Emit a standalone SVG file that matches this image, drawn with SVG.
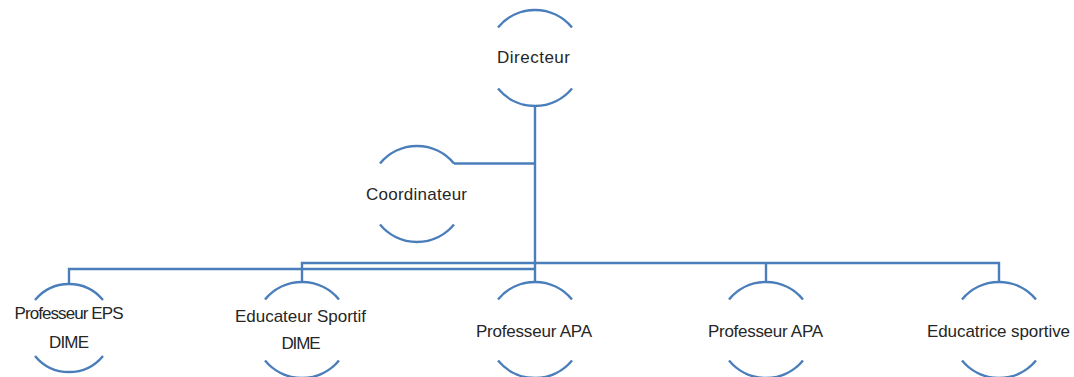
<svg xmlns="http://www.w3.org/2000/svg" width="1074" height="377" viewBox="0 0 1074 377">
<style>
.arc{fill:none;stroke:#4a7ebb;stroke-width:2.4;stroke-linecap:butt}
.con{fill:none;stroke:#4a7ebb;stroke-width:2.4}
.t{font-family:"Liberation Sans",Arial,sans-serif;font-size:17px;fill:#262626;text-anchor:middle}
</style>
<rect width="1074" height="377" fill="#ffffff"/>
<g id="connectors">
<path class="con" d="M535,106 V282"/>
<path class="con" d="M535,163.5 H454"/>
<path class="con" d="M535,269 H69 V284"/>
<path class="con" d="M535,263 H302 V282"/>
<path class="con" d="M535,263 H999 V282"/>
<path class="con" d="M766,263 V282"/>
</g>
<g id="directeur">
<path class="arc" d="M498,27.4 A48,48 0 0 1 572,27.4"/>
<path class="arc" d="M498,88.6 A48,48 0 0 0 572,88.6"/>
<text class="t" x="533.5" y="63" textLength="73">Directeur</text>
</g>
<g id="coordinateur">
<path class="arc" d="M380,163.4 A48,48 0 0 1 454,163.4"/>
<path class="arc" d="M380,224.6 A48,48 0 0 0 454,224.6"/>
<text class="t" x="416.5" y="200" textLength="101">Coordinateur</text>
</g>
<g id="prof-eps">
<path class="arc" d="M35,300 A44,44 0 0 1 103,300"/>
<path class="arc" d="M35,356 A44,44 0 0 0 103,356"/>
<text class="t" x="69" y="319" textLength="109">Professeur EPS</text>
<text class="t" x="69" y="348" textLength="40">DIME</text>
</g>
<g id="educateur">
<path class="arc" d="M265,299.4 A48,48 0 0 1 339,299.4"/>
<path class="arc" d="M265,360.6 A48,48 0 0 0 339,360.6"/>
<text class="t" x="300.5" y="322" textLength="131">Educateur Sportif</text>
<text class="t" x="301" y="349" textLength="39">DIME</text>
</g>
<g id="prof-apa-1">
<path class="arc" d="M498,299.4 A48,48 0 0 1 572,299.4"/>
<path class="arc" d="M498,360.6 A48,48 0 0 0 572,360.6"/>
<text class="t" x="534" y="337" textLength="116">Professeur APA</text>
</g>
<g id="prof-apa-2">
<path class="arc" d="M729,299.4 A48,48 0 0 1 803,299.4"/>
<path class="arc" d="M729,360.6 A48,48 0 0 0 803,360.6"/>
<text class="t" x="765.5" y="337" textLength="115">Professeur APA</text>
</g>
<g id="educatrice">
<path class="arc" d="M962,299.4 A48,48 0 0 1 1036,299.4"/>
<path class="arc" d="M962,360.6 A48,48 0 0 0 1036,360.6"/>
<text class="t" x="998.5" y="337" textLength="143">Educatrice sportive</text>
</g>
</svg>
